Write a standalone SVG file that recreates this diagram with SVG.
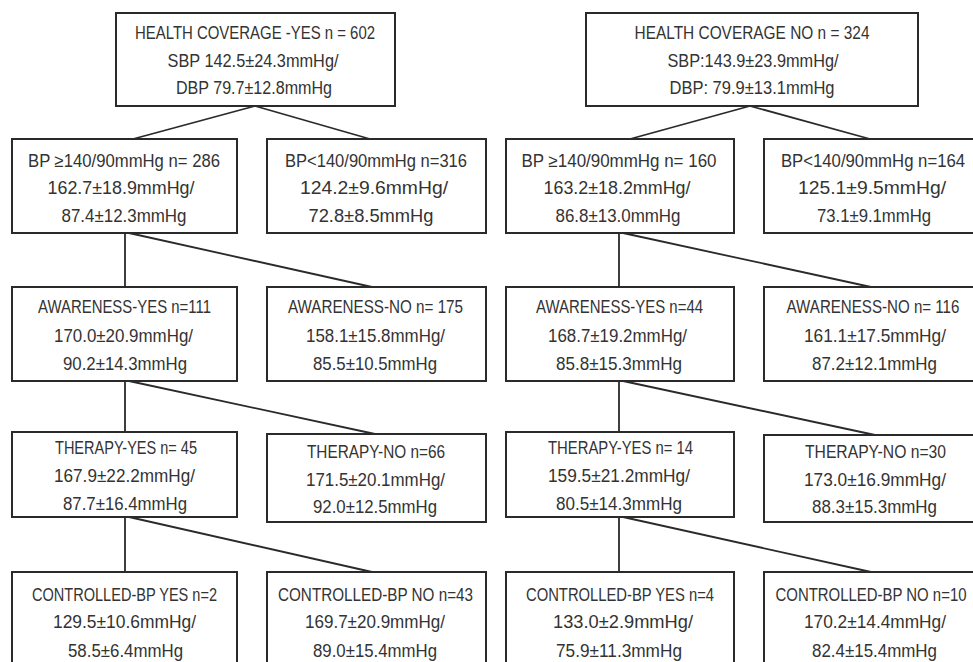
<svg xmlns="http://www.w3.org/2000/svg" width="973" height="662" viewBox="0 0 973 662">
<style>
.box{fill:#fff;stroke:#2a2a2a;stroke-width:2}
.c line{stroke:#2a2a2a;stroke-width:1.8}
text{font-family:"Liberation Sans",Arial,sans-serif;font-size:18px;fill:#333;text-anchor:middle}
</style>
<rect width="973" height="662" fill="#fff"/>
<g class="c" id="connectors">
<line x1="255" y1="106" x2="133" y2="139"/>
<line x1="255" y1="106" x2="370" y2="139"/>
<line x1="750" y1="106" x2="630" y2="139"/>
<line x1="750" y1="106" x2="870" y2="139"/>
<line x1="125" y1="233" x2="125" y2="287"/>
<line x1="129" y1="233" x2="372" y2="287"/>
<line x1="125" y1="381" x2="125" y2="432"/>
<line x1="129" y1="381" x2="375" y2="434"/>
<line x1="125" y1="517" x2="125" y2="572"/>
<line x1="129" y1="517" x2="372" y2="572"/>
<line x1="619" y1="233" x2="619" y2="287"/>
<line x1="623" y1="233" x2="871" y2="287"/>
<line x1="619" y1="381" x2="619" y2="432"/>
<line x1="623" y1="381" x2="875" y2="435"/>
<line x1="619" y1="517" x2="619" y2="572"/>
<line x1="623" y1="517" x2="871" y2="572"/>
</g>
<g id="hc-yes">
<rect class="box" x="116" y="13" width="279" height="93"/>
<text x="255" y="39" textLength="240" lengthAdjust="spacingAndGlyphs">HEALTH COVERAGE -YES  n = 602</text>
<text x="253" y="67" textLength="171" lengthAdjust="spacingAndGlyphs">SBP 142.5±24.3mmHg/</text>
<text x="254" y="94" textLength="156" lengthAdjust="spacingAndGlyphs">DBP 79.7±12.8mmHg</text>
</g>
<g id="hc-no">
<rect class="box" x="586" y="13" width="332" height="93"/>
<text x="752" y="39" textLength="235" lengthAdjust="spacingAndGlyphs">HEALTH COVERAGE NO  n = 324</text>
<text x="753" y="67" textLength="171" lengthAdjust="spacingAndGlyphs">SBP:143.9±23.9mmHg/</text>
<text x="752" y="94" textLength="165" lengthAdjust="spacingAndGlyphs">DBP: 79.9±13.1mmHg</text>
</g>
<g id="y-bp-high">
<rect class="box" x="12" y="139" width="225" height="94"/>
<text x="124" y="167" textLength="192" lengthAdjust="spacingAndGlyphs">BP ≥140/90mmHg  n= 286</text>
<text x="121" y="194" textLength="147" lengthAdjust="spacingAndGlyphs">162.7±18.9mmHg/</text>
<text x="124" y="222" textLength="125" lengthAdjust="spacingAndGlyphs">87.4±12.3mmHg</text>
</g>
<g id="y-bp-low">
<rect class="box" x="267" y="139" width="219" height="94"/>
<text x="376" y="167" textLength="182" lengthAdjust="spacingAndGlyphs">BP&lt;140/90mmHg n=316</text>
<text x="374" y="194" textLength="148" lengthAdjust="spacingAndGlyphs">124.2±9.6mmHg/</text>
<text x="371" y="222" textLength="125" lengthAdjust="spacingAndGlyphs">72.8±8.5mmHg</text>
</g>
<g id="n-bp-high">
<rect class="box" x="506" y="139" width="228" height="94"/>
<text x="619" y="167" textLength="195" lengthAdjust="spacingAndGlyphs">BP ≥140/90mmHg  n= 160</text>
<text x="617" y="194" textLength="147" lengthAdjust="spacingAndGlyphs">163.2±18.2mmHg/</text>
<text x="618" y="222" textLength="125" lengthAdjust="spacingAndGlyphs">86.8±13.0mmHg</text>
</g>
<g id="n-bp-low">
<rect class="box" x="764" y="139" width="225" height="94"/>
<text transform="translate(873 167) scale(0.93 1)" x="0" y="0">BP&lt;140/90mmHg n=164</text>
<text x="872" y="194" textLength="148" lengthAdjust="spacingAndGlyphs">125.1±9.5mmHg/</text>
<text x="874" y="222" textLength="114" lengthAdjust="spacingAndGlyphs">73.1±9.1mmHg</text>
</g>
<g id="y-aw-yes">
<rect class="box" x="12" y="287" width="225" height="94"/>
<text x="124.5" y="313" textLength="173" lengthAdjust="spacingAndGlyphs">AWARENESS-YES n=111</text>
<text x="123.5" y="342" textLength="139" lengthAdjust="spacingAndGlyphs">170.0±20.9mmHg/</text>
<text x="125" y="370" textLength="124" lengthAdjust="spacingAndGlyphs">90.2±14.3mmHg</text>
</g>
<g id="y-aw-no">
<rect class="box" x="267" y="287" width="219" height="94"/>
<text x="375.5" y="313" textLength="175" lengthAdjust="spacingAndGlyphs">AWARENESS-NO n= 175</text>
<text x="375.5" y="342" textLength="139" lengthAdjust="spacingAndGlyphs">158.1±15.8mmHg/</text>
<text x="375" y="370" textLength="124" lengthAdjust="spacingAndGlyphs">85.5±10.5mmHg</text>
</g>
<g id="n-aw-yes">
<rect class="box" x="506" y="287" width="228" height="94"/>
<text x="619.5" y="313" textLength="167" lengthAdjust="spacingAndGlyphs">AWARENESS-YES n=44</text>
<text x="617.5" y="342" textLength="139" lengthAdjust="spacingAndGlyphs">168.7±19.2mmHg/</text>
<text x="619" y="370" textLength="126" lengthAdjust="spacingAndGlyphs">85.8±15.3mmHg</text>
</g>
<g id="n-aw-no">
<rect class="box" x="764" y="287" width="225" height="94"/>
<text transform="translate(873 313) scale(0.84 1)" x="0" y="0">AWARENESS-NO n= 116</text>
<text x="875" y="342" textLength="142" lengthAdjust="spacingAndGlyphs">161.1±17.5mmHg/</text>
<text x="874.5" y="370" textLength="125" lengthAdjust="spacingAndGlyphs">87.2±12.1mmHg</text>
</g>
<g id="y-th-yes">
<rect class="box" x="12" y="432" width="225" height="85"/>
<text x="126" y="454" textLength="142" lengthAdjust="spacingAndGlyphs">THERAPY-YES n= 45</text>
<text x="124.5" y="482" textLength="141" lengthAdjust="spacingAndGlyphs">167.9±22.2mmHg/</text>
<text x="125" y="510" textLength="124" lengthAdjust="spacingAndGlyphs">87.7±16.4mmHg</text>
</g>
<g id="y-th-no">
<rect class="box" x="267" y="434" width="219" height="88"/>
<text x="376" y="458" textLength="138" lengthAdjust="spacingAndGlyphs">THERAPY-NO n=66</text>
<text x="375.5" y="486" textLength="139" lengthAdjust="spacingAndGlyphs">171.5±20.1mmHg/</text>
<text x="375" y="513" textLength="124" lengthAdjust="spacingAndGlyphs">92.0±12.5mmHg</text>
</g>
<g id="n-th-yes">
<rect class="box" x="506" y="432" width="228" height="85"/>
<text x="620.5" y="454" textLength="145" lengthAdjust="spacingAndGlyphs">THERAPY-YES n= 14</text>
<text x="619" y="482" textLength="142" lengthAdjust="spacingAndGlyphs">159.5±21.2mmHg/</text>
<text x="619" y="510" textLength="126" lengthAdjust="spacingAndGlyphs">80.5±14.3mmHg</text>
</g>
<g id="n-th-no">
<rect class="box" x="764" y="435" width="225" height="87"/>
<text x="875.5" y="458" textLength="141" lengthAdjust="spacingAndGlyphs">THERAPY-NO n=30</text>
<text x="875" y="486" textLength="142" lengthAdjust="spacingAndGlyphs">173.0±16.9mmHg/</text>
<text x="874.5" y="513" textLength="125" lengthAdjust="spacingAndGlyphs">88.3±15.3mmHg</text>
</g>
<g id="y-ctl-yes">
<rect class="box" x="12" y="572" width="225" height="100"/>
<text x="124.5" y="601" textLength="185" lengthAdjust="spacingAndGlyphs">CONTROLLED-BP YES n=2</text>
<text x="124.5" y="628" textLength="143" lengthAdjust="spacingAndGlyphs">129.5±10.6mmHg/</text>
<text x="125.5" y="657" textLength="115" lengthAdjust="spacingAndGlyphs">58.5±6.4mmHg</text>
</g>
<g id="y-ctl-no">
<rect class="box" x="267" y="572" width="219" height="100"/>
<text x="375.5" y="601" textLength="195" lengthAdjust="spacingAndGlyphs">CONTROLLED-BP NO n=43</text>
<text x="375" y="628" textLength="140" lengthAdjust="spacingAndGlyphs">169.7±20.9mmHg/</text>
<text x="375" y="657" textLength="124" lengthAdjust="spacingAndGlyphs">89.0±15.4mmHg</text>
</g>
<g id="n-ctl-yes">
<rect class="box" x="506" y="572" width="228" height="100"/>
<text x="620" y="601" textLength="188" lengthAdjust="spacingAndGlyphs">CONTROLLED-BP YES n=4</text>
<text x="623" y="628" textLength="140" lengthAdjust="spacingAndGlyphs">133.0±2.9mmHg/</text>
<text x="619" y="657" textLength="126" lengthAdjust="spacingAndGlyphs">75.9±11.3mmHg</text>
</g>
<g id="n-ctl-no">
<rect class="box" x="764" y="572" width="225" height="100"/>
<text transform="translate(871 601) scale(0.83 1)" x="0" y="0">CONTROLLED-BP NO n=10</text>
<text x="875" y="628" textLength="142" lengthAdjust="spacingAndGlyphs">170.2±14.4mmHg/</text>
<text x="874.5" y="657" textLength="125" lengthAdjust="spacingAndGlyphs">82.4±15.4mmHg</text>
</g>
</svg>
